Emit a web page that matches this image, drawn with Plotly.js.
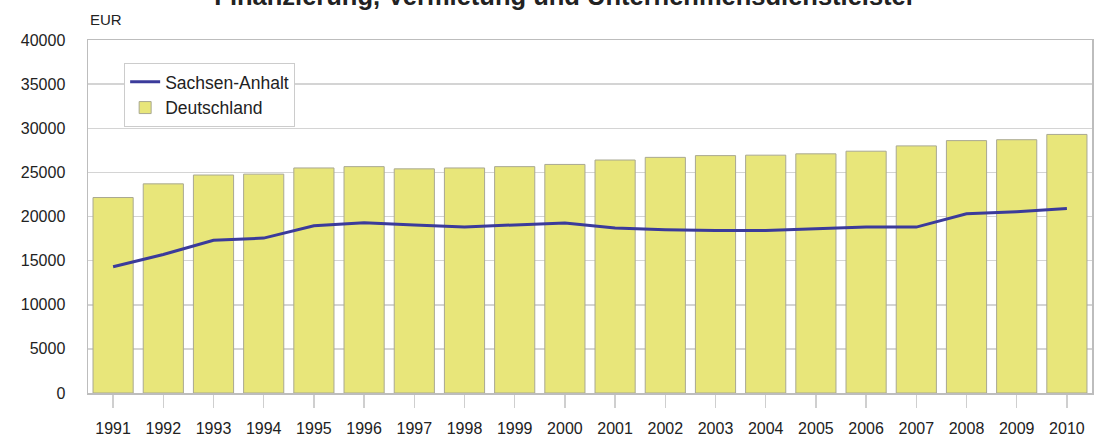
<!DOCTYPE html>
<html>
<head>
<meta charset="utf-8">
<script src="https://cdn.plot.ly/plotly-3.0.1.min.js"></script>
<style>
  html, body { margin: 0; padding: 0; background: #fff; }
  #chart { width: 1094px; height: 436px; }
</style>
</head>
<body>
<div id="chart"></div>
<script>
  // Jahre und Werte (EUR)
  var jahre = ["1991", "1992", "1993", "1994", "1995", "1996", "1997", "1998", "1999", "2000",
               "2001", "2002", "2003", "2004", "2005", "2006", "2007", "2008", "2009", "2010"];
  var deutschland = [22150, 23700, 24700, 24800, 25500, 25650, 25400, 25500, 25650, 25900,
                     26400, 26700, 26900, 26950, 27100, 27400, 28000, 28600, 28700, 29300];
  var sachsenAnhalt = [14300, 15700, 17300, 17550, 18950, 19300, 19050, 18800, 19050, 19250,
                       18700, 18500, 18400, 18400, 18600, 18800, 18800, 20300, 20550, 20900];
  var yTicks = [0, 5000, 10000, 15000, 20000, 25000, 30000, 35000, 40000];

  var fnt = "Liberation Sans, Arial, sans-serif";

  var traceLine = {
      x: jahre,
      y: sachsenAnhalt,
      type: 'scatter',
      mode: 'lines',
      name: 'Sachsen-Anhalt',
      line: { color: '#3b3b9b', width: 3 }
  };
  var traceBar = {
      x: jahre,
      y: deutschland,
      type: 'bar',
      name: 'Deutschland',
      marker: { color: '#e8e67a', line: { color: '#a9a892', width: 1 } }
  };

  var layout = {
      width: 1094,
      height: 436,
      margin: { l: 88, r: 2, t: 40, b: 43 },
      paper_bgcolor: '#fff',
      plot_bgcolor: '#fff',
      font: { family: fnt, size: 16, color: '#222' },
      bargap: 0.2,
      showlegend: true,
      title: {
          text: '<b>Finanzierung, Vermietung und Unternehmensdienstleister</b>',
          font: { family: fnt, size: 25.5, color: '#222' },
          xref: 'container', x: 0.5165, xanchor: 'center',
          yref: 'container', y: 0.989, yanchor: 'bottom'
      },
      xaxis: {
          type: 'category',
          showgrid: false,
          showline: true,
          linecolor: '#bdbdbd',
          linewidth: 1.5,
          mirror: true,
          ticks: 'outside',
          ticklen: 13,
          tickcolor: '#cfcfcf',
          tickwidth: 1.5,
          ticklabelstandoff: 7,
          tickfont: { family: fnt, size: 16, color: '#222' }
      },
      yaxis: {
          range: [0, 40000],
          tickvals: yTicks,
          ticktext: yTicks.map(String),
          showgrid: true,
          gridcolor: '#d4d4d4',
          gridwidth: 1.5,
          showline: true,
          linecolor: '#bdbdbd',
          linewidth: 1.5,
          mirror: true,
          ticks: '',
          ticklabelstandoff: 18,
          zeroline: false,
          tickfont: { family: fnt, size: 16, color: '#222' }
      },
      legend: {
          x: 0.036, xanchor: 'left',
          y: 0.935, yanchor: 'top',
          bgcolor: '#fff',
          bordercolor: '#cccccc',
          borderwidth: 1,
          font: { family: fnt, size: 17.5, color: '#222' },
          tracegroupgap: 2
      },
      annotations: [{
          text: 'EUR',
          xref: 'paper', x: 0, xanchor: 'left',
          yref: 'paper', y: 1.057, yanchor: 'middle',
          showarrow: false,
          font: { family: fnt, size: 15, color: '#222' }
      }]
  };

  Plotly.newPlot('chart', [traceLine, traceBar], layout, { displayModeBar: false, staticPlot: true });
</script>
</body>
</html>
